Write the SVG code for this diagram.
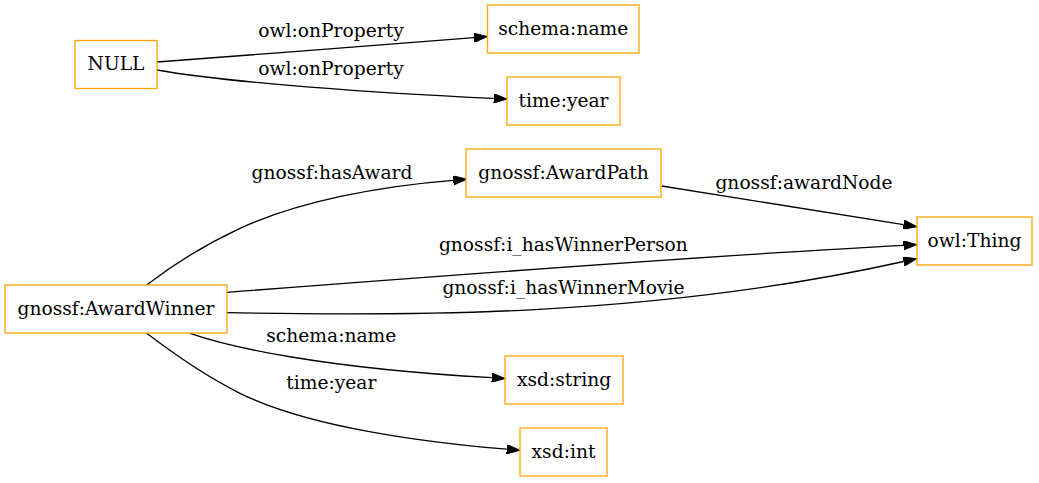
<svg xmlns="http://www.w3.org/2000/svg" width="1039" height="483" viewBox="0 0 1039 483">
<style>
.node rect{fill:#ffffff;stroke:#ffa500;stroke-width:1.3}
text{font-family:"DejaVu Serif","Liberation Serif",serif;font-size:18.67px;fill:#000;text-anchor:middle}
.edge path{fill:none;stroke:#000;stroke-width:1.3;marker-end:url(#arr)}
</style>
<defs>
<marker id="arr" viewBox="0 -4.67 13.33 9.33" refX="0" refY="0" markerWidth="13.33" markerHeight="9.33" markerUnits="userSpaceOnUse" orient="auto">
<path d="M0,-4.67 L13.33,0 L0,4.67 Z" fill="#000" stroke="#000" stroke-width="1"/>
</marker>
</defs>
<rect width="1039" height="483" fill="#ffffff"/>
<g id="edges">
<g class="edge" id="e_null_name">
<path d="M157,62 C260,54 380,45.5 474,37.7"/>
<text x="331" y="37">owl:onProperty</text>
</g>
<g class="edge" id="e_null_year">
<path d="M157,70 C230,83 380,93 493.7,98.4"/>
<text x="331" y="74.5">owl:onProperty</text>
</g>
<g class="edge" id="e_winner_path">
<path d="M146.7,285 C170,267 200,247 240,228.3 C300,201 380,186 453.3,180.3"/>
<text x="332" y="179">gnossf:hasAward</text>
</g>
<g class="edge" id="e_path_thing">
<path d="M661.7,186 L903.6,224.6"/>
<text x="804" y="189">gnossf:awardNode</text>
</g>
<g class="edge" id="e_winner_person">
<path d="M227,292.3 C400,279 700,256 903.5,245.3"/>
<text x="563.3" y="250.5">gnossf:i_hasWinnerPerson</text>
</g>
<g class="edge" id="e_winner_movie">
<path d="M227,312.7 C400,316 650,318 903.6,261.5"/>
<text x="563.5" y="294">gnossf:i_hasWinnerMovie</text>
</g>
<g class="edge" id="e_winner_string">
<path d="M190,333.3 C230,347 320,368 491.7,377.7"/>
<text x="331.3" y="342.3">schema:name</text>
</g>
<g class="edge" id="e_winner_int">
<path d="M146.7,333.3 C170,351 205,376 240,393.3 C310,428 430,443 506.7,449.2"/>
<text x="331.3" y="389">time:year</text>
</g>
</g>
<g id="NULL" class="node">
<rect x="75" y="40.5" width="82" height="48"/>
<text x="116" y="70">NULL</text>
</g>
<g id="schema_name" class="node">
<rect x="487.5" y="5" width="151.5" height="48"/>
<text x="563.25" y="34.5">schema:name</text>
</g>
<g id="time_year" class="node">
<rect x="507" y="77" width="113" height="48"/>
<text x="563.5" y="106.5">time:year</text>
</g>
<g id="gnossf_AwardPath" class="node">
<rect x="466" y="149" width="195" height="48"/>
<text x="563.5" y="178.5">gnossf:AwardPath</text>
</g>
<g id="owl_Thing" class="node">
<rect x="917" y="217" width="115" height="48"/>
<text x="974.5" y="246.5">owl:Thing</text>
</g>
<g id="gnossf_AwardWinner" class="node">
<rect x="5" y="285" width="222" height="48"/>
<text x="116" y="314.5">gnossf:AwardWinner</text>
</g>
<g id="xsd_string" class="node">
<rect x="505" y="356" width="118" height="48"/>
<text x="564" y="385.5">xsd:string</text>
</g>
<g id="xsd_int" class="node">
<rect x="520" y="428" width="87" height="48"/>
<text x="563.5" y="457.5">xsd:int</text>
</g>
</svg>
